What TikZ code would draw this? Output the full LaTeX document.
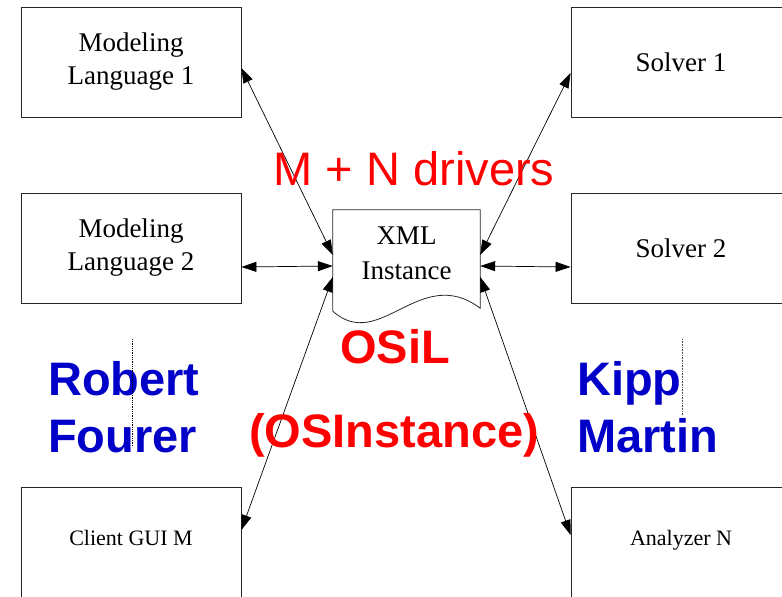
\documentclass[tikz,border=0pt]{standalone}
\usepackage{fontspec}
\setmainfont{Liberation Serif}
\newfontfamily\arialfont{Liberation Sans}
\usepackage{xcolor}
\usepackage{tikz}
\usetikzlibrary{arrows.meta, positioning}

\definecolor{nameblue}{RGB}{0,0,200}

\begin{document}
\begin{tikzpicture}[x=1pt, y=-1pt,
    box/.style={rectangle, draw=black!85, line width=0.8pt, minimum width=220pt, minimum height=110pt, align=center, font=\fontsize{27}{33}\selectfont},
    smallbox/.style={box, font=\fontsize{22}{27}\selectfont},
    doctext/.style={rectangle, minimum width=147pt, minimum height=86pt, inner sep=0pt, align=center, font=\fontsize{27}{35}\selectfont},
    arrow/.style={{Triangle[length=15pt,width=10pt]}-{Triangle[length=15pt,width=10pt]}, line width=0.7pt},
    redtext/.style={text=red, inner sep=0pt, font=\arialfont\fontsize{47}{57}\selectfont},
    redbold/.style={redtext, font=\arialfont\bfseries\fontsize{47}{57}\selectfont},
    author/.style={text=nameblue, inner sep=0pt, font=\arialfont\bfseries\fontsize{47}{57}\selectfont}
]
\useasboundingbox (0,0) rectangle (782,597);
\clip (0,0) rectangle (782,597);

% Left side
\node[box] (ml1) at (131,62) {Modeling\\Language 1};
\node[box] (ml2) at (131,248) {Modeling\\Language 2};
\node[smallbox, text depth=8pt] (gui) at (131,542) {Client GUI M};

% Right side
\node[box] (solver1) at (681,62) {Solver 1};
\node[box] (solver2) at (681,248) {Solver 2};
\node[smallbox, text depth=8pt] (analyzer) at (681,542) {Analyzer N};

% XML document
\node[doctext] (doc) at (406.5,253) {XML\\Instance};
\draw[black!85, line width=0.8pt] (doc.north west) -- (doc.north east) -- ([yshift=-12pt]doc.south east)
    .. controls +(-60,-45) and +(47,42) .. ([yshift=-15pt]doc.south west) -- cycle;

% Arrows
\draw[arrow] ([yshift=-6pt]ml1.east) -- ([yshift=-2pt]doc.west);
\draw[arrow] ([yshift=-19pt]ml2.east) -- ([yshift=-13pt]doc.west);
\draw[arrow] ([yshift=12pt]gui.east) -- ([yshift=-24pt]doc.west);
\draw[arrow] ([yshift=-11pt]solver1.west) -- ([yshift=-2pt]doc.east);
\draw[arrow] ([yshift=-19pt]solver2.west) -- ([yshift=-13pt]doc.east);
\draw[arrow] ([yshift=7pt]analyzer.west) -- ([yshift=-24pt]doc.east);

% Labels
\node[redtext, anchor=base] (drivers) at (414,185) {M + N drivers};
\node[redbold, anchor=base] (osil) at (395,363) {OSiL};
\node[redbold, anchor=base] (osinst) at (394,447) {(OSInstance)};

\node[author, anchor=base west] (robert) at (48,395) {Robert};
\node[author, anchor=base west] (fourer) at (48,452) {Fourer};
\node[author, anchor=base west] (kipp) at (577,395) {Kipp};
\node[author, anchor=base west] (martin) at (577,452) {Martin};

% Dotted marks
\draw[densely dotted, line width=0.8pt] (132,339) -- (132,447);
\draw[densely dotted, line width=0.6pt, black!70] (682,339) -- (682,415);

\end{tikzpicture}
\end{document}
